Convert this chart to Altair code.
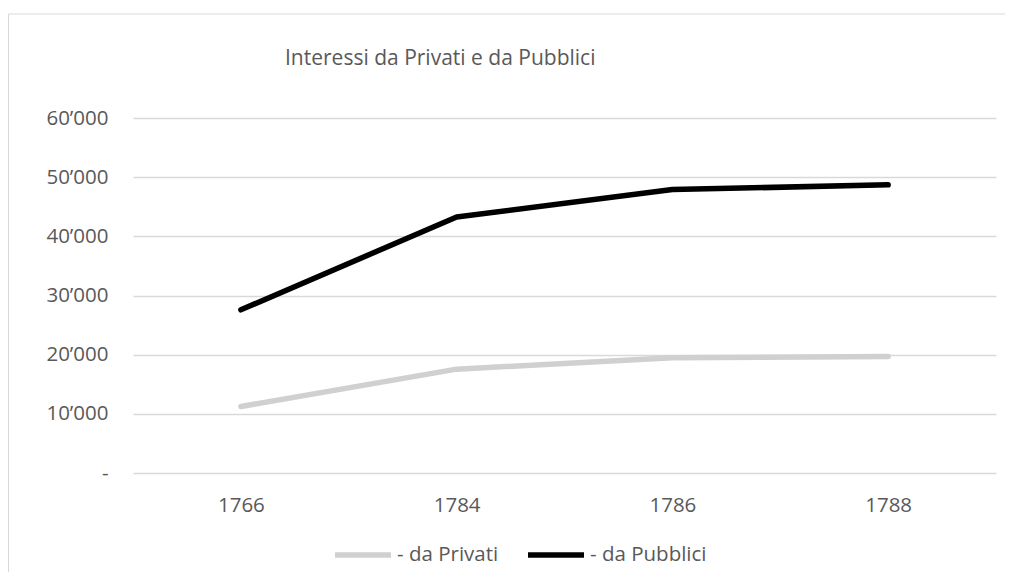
import altair as alt
import pandas as pd

years = ["1766", "1784", "1786", "1788"]
series_names = ["- da Privati", "- da Pubblici"]
privati = [11240, 17550, 19460, 19690]
pubblici = [27580, 43270, 47900, 48700]
y_ticks = [0, 10000, 20000, 30000, 40000, 50000, 60000]
title_text = "Interessi da Privati e da Pubblici"

rows = []
for name, vals in zip(series_names, [privati, pubblici]):
    for yr, v in zip(years, vals):
        rows.append({"Anno": yr, "Serie": name, "Valore": v})
df = pd.DataFrame(rows)

FONT = "Open Sans"
TXT = "#595959"

lines = alt.Chart(df).mark_line(strokeWidth=5.5, strokeCap="round", strokeJoin="round").encode(
    x=alt.X("Anno:O", sort=years,
            scale=alt.Scale(type="point", padding=0.5),
            axis=alt.Axis(title=None, labelAngle=0, domain=False, ticks=False, grid=False,
                          labelPadding=22, labelFont=FONT, labelFontSize=20.5, labelColor=TXT)),
    y=alt.Y("Valore:Q",
            scale=alt.Scale(domain=[0, 60000], nice=False),
            axis=alt.Axis(title=None, values=y_ticks, domain=False, ticks=False,
                          gridColor="#d9d9d9", gridWidth=1.3,
                          labelPadding=25, labelFont=FONT, labelFontSize=20.5, labelColor=TXT,
                          labelExpr="datum.value == 0 ? '-\u2007' : replace(format(datum.value, ','), ',', '\u2019')")),
    color=alt.Color("Serie:N",
                    scale=alt.Scale(domain=series_names, range=["#d0d0d0", "#000000"]),
                    legend=alt.Legend(title=None, orient="none", direction="horizontal",
                                      legendX=199, legendY=406,
                                      symbolType="stroke", symbolSize=3136, symbolStrokeWidth=5.5,
                                      labelOffset=3, columnPadding=18,
                                      labelFont=FONT, labelFontSize=20.5, labelColor=TXT)),
    order=alt.Order("Anno:O"),
)

one = pd.DataFrame({"k": [0]})
border = alt.Chart(one).mark_rule(color="#d9d9d9", strokeWidth=1.2).encode(
    x=alt.value(-124.5), x2=alt.value(-124.5), y=alt.value(-104), y2=alt.value(460)
) + alt.Chart(one).mark_rule(color="#d9d9d9", strokeWidth=1.2).encode(
    x=alt.value(-124.5), x2=alt.value(880), y=alt.value(-104), y2=alt.value(-104)
)

title = alt.Chart(pd.DataFrame({"t": [title_text]})).mark_text(
    font=FONT, fontSize=21, color=TXT, align="left", baseline="alphabetic"
).encode(text="t:N", x=alt.value(152), y=alt.value(-53))

chart = alt.layer(border, title, lines).properties(
    width=863, height=355,
    padding={"left": 125, "top": 110, "right": 9, "bottom": 99},
    autosize=alt.AutoSizeParams(type="none"),
).configure_view(stroke=None)

chart.save("out.html", embed_options={"renderer": "svg", "actions": False})
